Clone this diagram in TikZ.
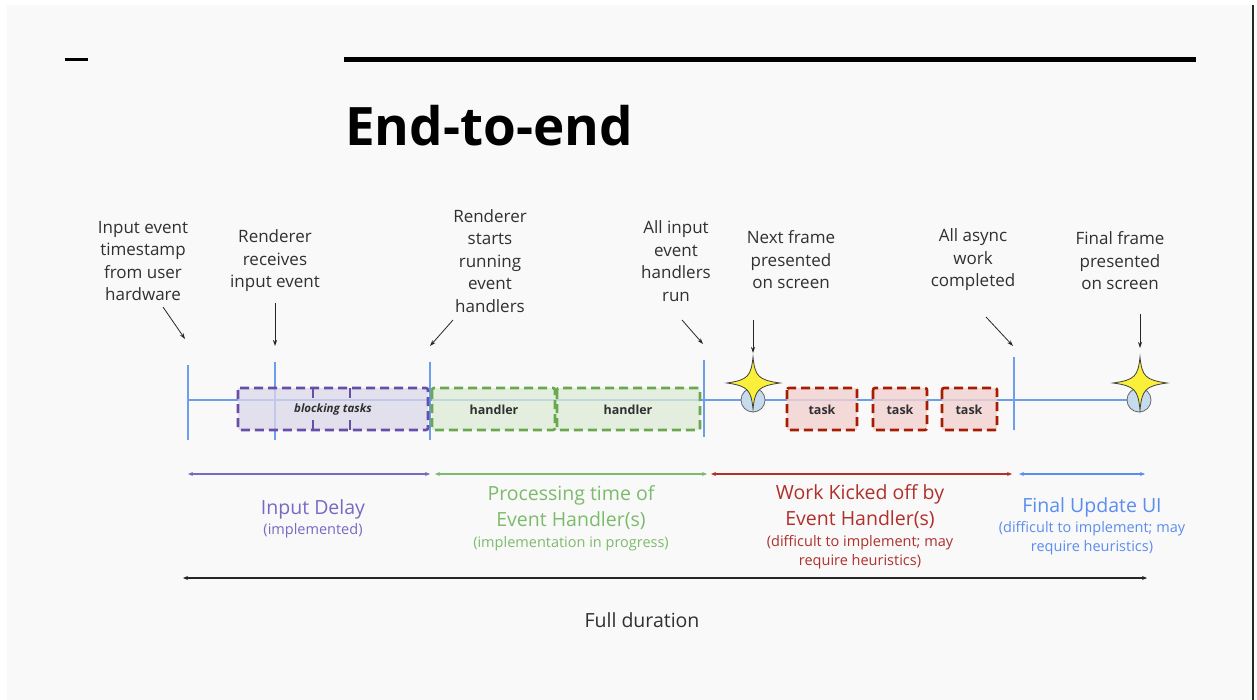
\documentclass[tikz,border=0pt]{standalone}
\usepackage{fontspec}
\setmainfont{Open Sans}
\usetikzlibrary{arrows.meta}
\definecolor{bg}{HTML}{F9F9F9}
\definecolor{tl}{HTML}{6D9EEB}
\definecolor{pur}{HTML}{674EA7}
\definecolor{purtxt}{HTML}{7A68C2}
\definecolor{purfill}{HTML}{DCD8EA}
\definecolor{grn}{HTML}{6AA84F}
\definecolor{grntxt}{HTML}{7CBB6B}
\definecolor{grnfill}{HTML}{DCEBD6}
\definecolor{rd}{HTML}{A61C00}
\definecolor{rdtxt}{HTML}{B0302A}
\definecolor{rdfill}{HTML}{F3D2D2}
\definecolor{blu}{HTML}{5B8DEF}
\definecolor{txt}{HTML}{303030}
\definecolor{circ}{HTML}{C6DCEE}
\definecolor{staryel}{HTML}{FAF03A}
\begin{document}
\begin{tikzpicture}[x=1pt,y=-1pt,
  lbl/.style={font=\fontsize{17}{22.5}\selectfont, align=center, text=txt, inner sep=0pt},
  big/.style={font=\fontsize{19.5}{26}\selectfont, align=center, inner sep=0pt},
  small/.style={font=\fontsize{14.5}{18.5}\selectfont, align=center, inner sep=0pt},
  ptr/.style={-{Stealth[length=6pt,width=4pt]}, line width=0.8pt, black!85},
  tick/.style={tl, line width=2.6pt},
  boxtext/.style={font=\bfseries\fontsize{12.5}{13}\selectfont, text=txt},
  dashbox/.style={dash pattern=on 9pt off 5pt, line width=2.6pt, rounded corners=2pt},
  dim/.style={{Stealth[length=5pt,width=4pt]}-{Stealth[length=5pt,width=4pt]}, line width=1.1pt},
  starshape/.style={fill=staryel, draw=black!75, line width=0.8pt}
]
\useasboundingbox (0,0) rectangle (1257,700);
\fill[white] (0,0) rectangle (1257,700);
\fill[bg] (7,5) rectangle (1252,700);
\draw[black!85, line width=2pt] (1253,5) -- (1253,700);

% header
\draw[black, line width=3pt] (65,60) -- (88,60);
\draw[black, line width=5pt] (344,60) -- (1196,60);
\node[anchor=base west, inner sep=0pt, font=\bfseries\fontsize{53}{53}\selectfont] (title) at (345,146) {End-to-end};

% main timeline
\coordinate (tlstart) at (188,400);
\coordinate (tlend) at (1128,400);
\draw[tl, line width=2.6pt] (tlstart) -- (tlend);
\draw[tick] (188,365) -- (188,440);
\draw[tick] (275,362) -- (275,440);
\draw[tick] (430,362) -- (430,440);
\draw[tick] (704,360) -- (704,437);
\draw[tick] (1014,357) -- (1014,430);

% blocking tasks
\fill[purfill, opacity=0.75] (238,388) rectangle (428,430);
\draw[pur, dashbox] (238,388) rectangle (428,430);
\draw[pur, line width=2.6pt] (313,388) -- (313,398) (313,420) -- (313,430)
  (350,388) -- (350,398) (350,420) -- (350,430);
\node[boxtext, font=\bfseries\itshape\fontsize{11.5}{12}\selectfont] (blk) at (333,410) {blocking tasks};

% handlers
\fill[grnfill, opacity=0.75] (432,388) rectangle (700,430);
\draw[grn, dashbox] (432,388) rectangle (555,430);
\draw[grn, dashbox] (557,388) rectangle (700,430);
\node[boxtext] (h1) at (494,410) {handler};
\node[boxtext] (h2) at (628,410) {handler};

% tasks
\fill[rdfill, opacity=0.8] (787,388) rectangle (857,430);
\fill[rdfill, opacity=0.8] (873,388) rectangle (927,430);
\fill[rdfill, opacity=0.8] (942,388) rectangle (997,430);
\draw[rd, dashbox] (787,388) rectangle (857,430);
\draw[rd, dashbox] (873,388) rectangle (927,430);
\draw[rd, dashbox] (942,388) rectangle (997,430);
\node[boxtext] (t1) at (822,410) {task};
\node[boxtext] (t2) at (900,410) {task};
\node[boxtext] (t3) at (969,410) {task};

% frames (circle + star)
\node[circle, fill=circ, draw=black!60, line width=0.8pt, minimum size=24pt, inner sep=0pt] (c1) at (753,400) {};
\node[circle, fill=circ, draw=black!60, line width=0.8pt, minimum size=24pt, inner sep=0pt] (c2) at (1139,400) {};
\draw[starshape] (753,357) .. controls (755,376) and (758,380) .. (780,383)
  .. controls (758,386) and (755,390) .. (753,409)
  .. controls (751,390) and (748,386) .. (727,383)
  .. controls (748,380) and (751,376) .. (753,357) -- cycle;
\draw[starshape] (1140,357) .. controls (1142,376) and (1145,380) .. (1167,383)
  .. controls (1145,386) and (1142,390) .. (1140,410)
  .. controls (1138,390) and (1135,386) .. (1113,383)
  .. controls (1135,380) and (1138,376) .. (1140,357) -- cycle;

% top labels
\node[lbl] (l1) at (143,261) {Input event\\timestamp\\from user\\hardware};
\node[lbl] (l2) at (275,261) {Renderer\\receives\\input event};
\node[lbl] (l3) at (490,261) {Renderer\\starts\\running\\event\\handlers};
\node[lbl] (l4) at (676,261) {All input\\event\\handlers\\run};
\node[lbl] (l5) at (791,260) {Next frame\\presented\\on screen};
\node[lbl] (l6) at (973,260) {All async\\work\\completed};
\node[lbl] (l7) at (1120,261) {Final frame\\presented\\on screen};

% pointers
\coordinate (p1a) at (163,307); \coordinate (p1b) at (185,339);
\coordinate (p2a) at (275,303); \coordinate (p2b) at (275,346);
\coordinate (p3a) at (453,320); \coordinate (p3b) at (430,346);
\coordinate (p4a) at (682,320); \coordinate (p4b) at (703,344);
\coordinate (p5a) at (753,320); \coordinate (p5b) at (753,353);
\coordinate (p6a) at (986,317); \coordinate (p6b) at (1013,346);
\coordinate (p7a) at (1140,314); \coordinate (p7b) at (1140,348);
\draw[ptr] (p1a) -- (p1b);
\draw[ptr] (p2a) -- (p2b);
\draw[ptr] (p3a) -- (p3b);
\draw[ptr] (p4a) -- (p4b);
\draw[ptr] (p5a) -- (p5b);
\draw[ptr] (p6a) -- (p6b);
\draw[ptr] (p7a) -- (p7b);

% dimension arrows
\coordinate (d1a) at (188,474); \coordinate (d1b) at (430,474);
\coordinate (d2a) at (435,474); \coordinate (d2b) at (707,474);
\coordinate (d3a) at (711,474); \coordinate (d3b) at (1012,474);
\coordinate (d4a) at (1019,474); \coordinate (d4b) at (1145,474);
\draw[dim, purtxt] (d1a) -- (d1b);
\draw[dim, grntxt] (d2a) -- (d2b);
\draw[dim, rdtxt] (d3a) -- (d3b);
\draw[dim, blu] (d4a) -- (d4b);

\node[big, text=purtxt] (n1) at (313,509) {Input Delay};
\node[small, text=purtxt] (n1s) at (313,531) {(implemented)};
\node[big, text=grntxt] (n2) at (571,508) {Processing time of\\Event Handler(s)};
\node[small, text=grntxt] (n2s) at (571,544) {(implementation in progress)};
\node[big, text=rdtxt] (n3) at (860,507) {Work Kicked off by\\Event Handler(s)};
\node[small, text=rdtxt] (n3s) at (860,552) {(difficult to implement; may\\require heuristics)};
\node[big, text=blu] (n4) at (1092,507) {Final Update UI};
\node[small, text=blu] (n4s) at (1092,538) {(difficult to implement; may\\require heuristics)};

% full duration
\coordinate (fa) at (183,578); \coordinate (fb) at (1147,578);
\draw[dim, black!85, line width=1.2pt] (fa) -- (fb);
\node[big, text=txt] (full) at (642,620) {Full duration};
\end{tikzpicture}
\end{document}
